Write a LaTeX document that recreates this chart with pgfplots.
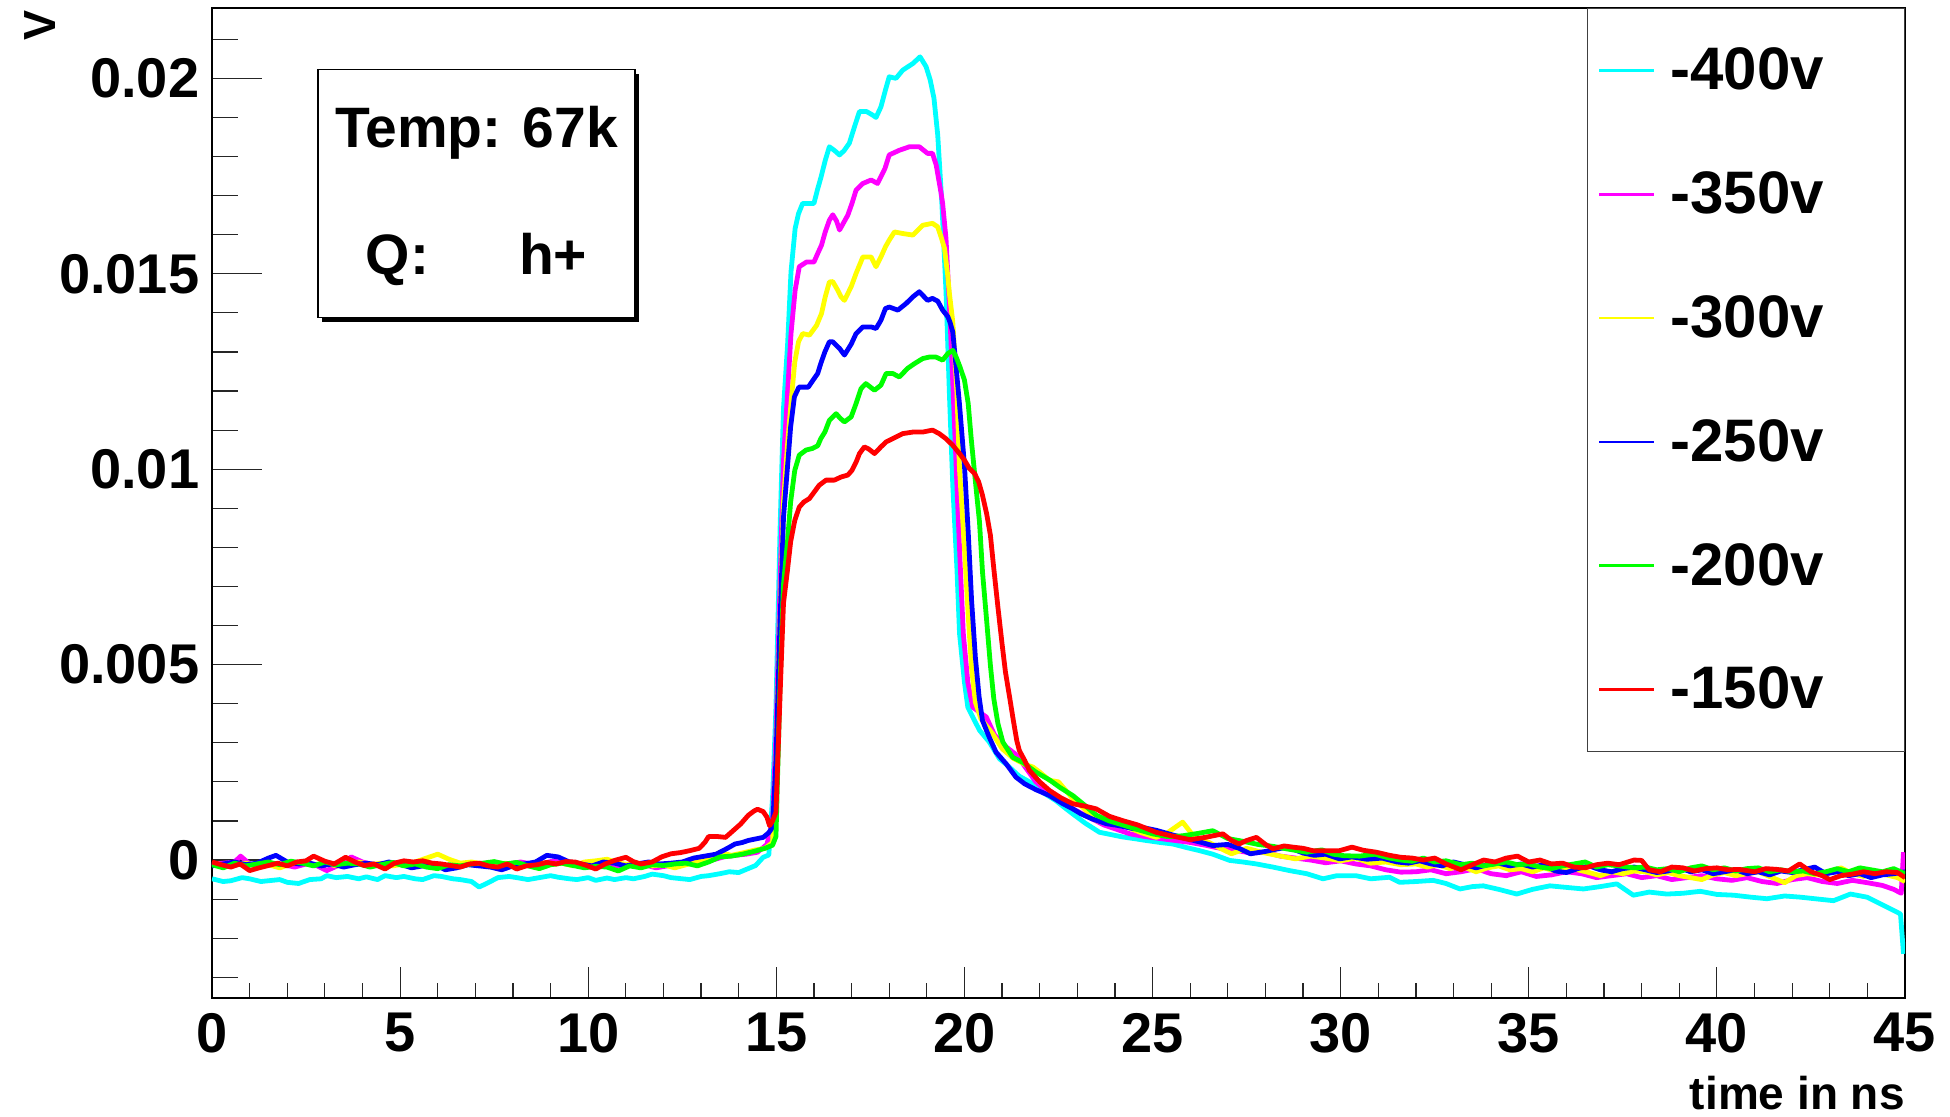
\documentclass[border=0pt]{standalone}
\usepackage{fontspec}
\setmainfont{Liberation Sans}
\usepackage{pgfplots}
\pgfplotsset{compat=1.18}
\definecolor{cCyan}{RGB}{0,255,255}
\definecolor{cMag}{RGB}{255,0,255}
\definecolor{cYel}{RGB}{255,255,0}
\definecolor{cBlue}{RGB}{0,0,255}
\definecolor{cGreen}{RGB}{0,255,0}
\definecolor{cRed}{RGB}{255,0,0}
\begin{document}
\begin{tikzpicture}
\begin{axis}[
  at={(0pt,0pt)}, anchor=south west,
  scale only axis, width=846.5pt, height=495pt,
  xmin=0, xmax=45, ymin=-0.00353, ymax=0.0218,
  axis line style={line width=0.8pt, black},
  xtick={0,5,...,45},
  minor xtick={1,2,3,4,6,7,8,9,11,12,13,14,16,17,18,19,21,22,23,24,26,27,28,29,31,32,33,34,36,37,38,39,41,42,43,44},
  ytick={0,0.005,0.01,0.015,0.02},
  minor ytick={-0.003,-0.002,-0.001,0.001,0.002,0.003,0.004,0.006,0.007,0.008,0.009,0.011,0.012,0.013,0.014,0.016,0.017,0.018,0.019,0.021},
  xtick pos=bottom, ytick pos=left,
  tick align=inside,
  tick style={line width=0.6pt, black!85},
  major tick length=25pt, minor tick length=12.75pt,
  every major x tick/.append style={/pgfplots/major tick length=15.5pt},
  every minor x tick/.append style={/pgfplots/minor tick length=7.5pt},
  scaled y ticks=false,
  yticklabel style={/pgf/number format/fixed, /pgf/number format/precision=3, inner sep=0pt, xshift=-6.2pt},
  xticklabel style={inner sep=0pt, yshift=-7.5pt},
  /pgf/number format/assume math mode=true,
  ticklabel style={font=\fontsize{28}{30}\selectfont\bfseries},
  xlabel={time in ns},
  xlabel style={at={(axis description cs:1,0)}, anchor=base east, yshift=-55.5pt, inner sep=0pt, font=\fontsize{23}{25}\selectfont\bfseries},
  ylabel={V},
  ylabel style={at={(axis description cs:-0.1013,0.998)}, anchor=east, rotate=0, inner sep=0pt, font=\fontsize{22.5}{24}\selectfont\bfseries},
  legend cell align=left,
  legend style={at={(axis description cs:1,1)}, anchor=north east, draw=black!75, line width=0.6pt,
    inner xsep=5pt, inner ysep=0pt, row sep=0pt, column sep=7.5pt,
    font=\fontsize{30}{30}\selectfont\bfseries,
    nodes={inner sep=0pt, minimum height=61.9pt, text width=112pt, align=left}},
  legend image code/.code={\draw[#1, line width=1.3pt] (0pt,0pt) -- (27.5pt,0pt);},
  every axis plot/.append style={line width=2.4pt, line join=round, no markers},
]
% -400v
\addplot[cCyan] coordinates {(0,-0.00048) (0.3,-0.00055) (0.5,-0.00053) (0.8,-0.00045) (1.0,-0.00048) (1.3,-0.00055) (1.5,-0.00053) (1.8,-0.00050) (2.0,-0.00057) (2.3,-0.00060) (2.6,-0.00050) (2.9,-0.00048) (3.05,-0.00040) (3.3,-0.00045) (3.6,-0.00042) (3.9,-0.00048) (4.1,-0.00043) (4.4,-0.00050) (4.6,-0.00040) (4.9,-0.00045) (5.1,-0.00042) (5.4,-0.00048) (5.6,-0.00050) (5.9,-0.00040) (6.1,-0.00042) (6.4,-0.00048) (6.6,-0.00050) (6.9,-0.00055) (7.1,-0.00069) (7.3,-0.00060) (7.6,-0.00045) (7.9,-0.00042) (8.1,-0.00045) (8.4,-0.00050) (8.7,-0.00045) (9.0,-0.00040) (9.2,-0.00044) (9.5,-0.00048) (9.7,-0.00050) (10.0,-0.00045) (10.2,-0.00052) (10.5,-0.00046) (10.7,-0.00050) (11.0,-0.00045) (11.2,-0.00048) (11.5,-0.00042) (11.7,-0.00036) (12.0,-0.00040) (12.2,-0.00045) (12.5,-0.00048) (12.7,-0.00050) (13.0,-0.00042) (13.2,-0.00040) (13.5,-0.00035) (13.75,-0.00030) (14.0,-0.00032) (14.25,-0.00022) (14.45,-0.00014) (14.65,0.00007) (14.8,0.00013) (14.9,0.00160) (14.99,0.00390) (15.1,0.00850) (15.19,0.01155) (15.3,0.01320) (15.39,0.01505) (15.5,0.01616) (15.59,0.01654) (15.7,0.01680) (16.0,0.01680) (16.09,0.01714) (16.19,0.01748) (16.3,0.01790) (16.41,0.01825) (16.55,0.01815) (16.68,0.01804) (16.8,0.01815) (16.94,0.01834) (17.09,0.01880) (17.21,0.01915) (17.4,0.01915) (17.56,0.01906) (17.65,0.01900) (17.78,0.01927) (17.9,0.01970) (18.0,0.02004) (18.18,0.02000) (18.36,0.02021) (18.63,0.02038) (18.82,0.02055) (18.98,0.02030) (19.09,0.01996) (19.19,0.01949) (19.29,0.01855) (19.4,0.01680) (19.51,0.01454) (19.6,0.01194) (19.69,0.00959) (19.8,0.00746) (19.87,0.00579) (20.0,0.00455) (20.09,0.00391) (20.22,0.00366) (20.4,0.00332) (20.66,0.00302) (20.8,0.00280) (20.93,0.00259) (21.1,0.00246) (21.45,0.00215) (21.82,0.00195) (22.1,0.00172) (22.43,0.00152) (22.65,0.00135) (22.88,0.00118) (23.2,0.00095) (23.59,0.00071) (23.9,0.00065) (24.21,0.00059) (24.5,0.00055) (24.83,0.00050) (25.2,0.00045) (25.54,0.00041) (25.9,0.00032) (26.25,0.00024) (26.6,0.00015) (27.05,-0.00001) (27.4,-0.00005) (27.76,-0.00010) (28.2,-0.00018) (28.64,-0.00027) (29.1,-0.00035) (29.53,-0.00048) (29.9,-0.00040) (30.4,-0.00040) (30.8,-0.00048) (31.3,-0.00044) (31.57,-0.00057) (32.0,-0.00055) (32.46,-0.00052) (32.8,-0.00060) (33.17,-0.00074) (33.5,-0.00068) (33.79,-0.00066) (34.2,-0.00075) (34.68,-0.00087) (35.1,-0.00075) (35.56,-0.00066) (36.0,-0.00070) (36.45,-0.00074) (36.9,-0.00068) (37.34,-0.00061) (37.78,-0.00090) (38.2,-0.00082) (38.67,-0.00087) (39.1,-0.00085) (39.56,-0.00080) (40.0,-0.00088) (40.45,-0.00090) (40.9,-0.00095) (41.33,-0.00099) (41.8,-0.00092) (42.22,-0.00095) (42.7,-0.00100) (43.1,-0.00104) (43.55,-0.00087) (43.99,-0.00095) (44.43,-0.00116) (44.7,-0.00129) (44.88,-0.00138) (44.96,-0.00240)};
\addlegendentry{-400v}
% -350v
\addplot[cMag] coordinates {(0,-0.00012) (0.3,-0.00008) (0.6,-0.00005) (0.76,0.00010) (1.0,-0.00010) (1.3,-0.00015) (1.6,-0.00010) (1.9,-0.00012) (2.2,-0.00018) (2.5,-0.00010) (2.8,-0.00015) (3.05,-0.00027) (3.4,-0.00012) (3.7,0.00008) (4.0,-0.00005) (4.3,-0.00012) (4.6,-0.00015) (4.9,-0.00010) (5.2,-0.00015) (5.5,-0.00008) (5.8,-0.00012) (6.1,-0.00018) (6.4,-0.00015) (6.7,-0.00010) (7.0,-0.00012) (7.3,-0.00015) (7.6,-0.00012) (7.9,-0.00010) (8.2,-0.00005) (8.5,-0.00010) (8.8,-0.00008) (9.1,-0.00002) (9.4,-0.00010) (9.7,-0.00008) (10.0,-0.00015) (10.3,-0.00012) (10.6,-0.00018) (10.9,-0.00015) (11.2,-0.00010) (11.5,-0.00012) (11.8,-0.00020) (12.1,-0.00015) (12.4,-0.00010) (12.7,-0.00008) (13.0,-0.00005) (13.3,0.00000) (13.6,0.00008) (13.9,0.00012) (14.2,0.00015) (14.5,0.00020) (14.75,0.00040) (14.9,0.00100) (14.99,0.00319) (15.1,0.00711) (15.19,0.01021) (15.3,0.01198) (15.39,0.01347) (15.5,0.01458) (15.61,0.01518) (15.8,0.01530) (16.0,0.01530) (16.1,0.01552) (16.2,0.01573) (16.3,0.01607) (16.41,0.01637) (16.5,0.01651) (16.6,0.01635) (16.68,0.01612) (16.9,0.01650) (17.01,0.01680) (17.12,0.01714) (17.3,0.01731) (17.52,0.01740) (17.69,0.01731) (17.89,0.01770) (18.0,0.01804) (18.27,0.01816) (18.54,0.01825) (18.8,0.01825) (19.02,0.01808) (19.15,0.01808) (19.25,0.01778) (19.3,0.01750) (19.38,0.01706) (19.42,0.01680) (19.51,0.01590) (19.6,0.01420) (19.7,0.01198) (19.8,0.00959) (19.89,0.00750) (19.97,0.00579) (20.09,0.00455) (20.22,0.00391) (20.58,0.00366) (20.8,0.00320) (21.1,0.00290) (21.37,0.00270) (21.6,0.00240) (21.9,0.00200) (22.2,0.00175) (22.6,0.00148) (22.9,0.00130) (23.3,0.00110) (23.7,0.00090) (24.0,0.00080) (24.4,0.00067) (24.8,0.00060) (25.2,0.00055) (25.6,0.00050) (26.0,0.00045) (26.4,0.00038) (26.8,0.00030) (27.2,0.00025) (27.6,0.00018) (28.0,0.00020) (28.4,0.00010) (28.8,0.00005) (29.2,0.00000) (29.6,-0.00007) (30.0,-0.00002) (30.4,-0.00010) (30.8,-0.00015) (31.2,-0.00025) (31.6,-0.00031) (32.0,-0.00030) (32.4,-0.00025) (32.8,-0.00035) (33.2,-0.00030) (33.6,-0.00022) (34.0,-0.00035) (34.4,-0.00040) (34.8,-0.00030) (35.2,-0.00042) (35.6,-0.00038) (36.0,-0.00030) (36.4,-0.00035) (36.8,-0.00045) (37.2,-0.00040) (37.6,-0.00035) (38.0,-0.00045) (38.4,-0.00040) (38.8,-0.00050) (39.2,-0.00045) (39.6,-0.00040) (40.0,-0.00048) (40.4,-0.00052) (40.8,-0.00045) (41.2,-0.00055) (41.6,-0.00060) (42.0,-0.00050) (42.4,-0.00045) (42.8,-0.00055) (43.2,-0.00060) (43.6,-0.00052) (44.0,-0.00058) (44.4,-0.00065) (44.7,-0.00075) (44.9,-0.00085) (44.96,0.00020)};
\addlegendentry{-350v}
% -300v
\addplot[cYel] coordinates {(0,-0.00010) (0.3,-0.00018) (0.6,-0.00012) (0.9,-0.00008) (1.2,-0.00015) (1.5,-0.00012) (1.8,-0.00020) (2.1,-0.00010) (2.4,-0.00005) (2.7,-0.00012) (3.0,-0.00008) (3.3,-0.00015) (3.6,-0.00010) (3.9,-0.00005) (4.2,-0.00012) (4.5,-0.00008) (4.8,-0.00015) (5.1,-0.00010) (5.4,-0.00005) (5.7,0.00005) (6.0,0.00015) (6.3,0.00002) (6.6,-0.00008) (6.9,-0.00005) (7.2,-0.00010) (7.5,-0.00012) (7.8,-0.00008) (8.1,-0.00015) (8.4,-0.00010) (8.7,-0.00005) (9.0,-0.00012) (9.3,-0.00008) (9.6,-0.00015) (9.9,-0.00005) (10.2,-0.00002) (10.5,0.00002) (10.8,-0.00008) (11.1,-0.00012) (11.4,-0.00010) (11.7,-0.00015) (12.0,-0.00012) (12.3,-0.00020) (12.6,-0.00012) (12.9,-0.00005) (13.2,0.00005) (13.5,0.00020) (13.8,0.00012) (14.1,0.00018) (14.4,0.00025) (14.7,0.00030) (14.9,0.00045) (14.99,0.00255) (15.1,0.00622) (15.19,0.00916) (15.3,0.01065) (15.4,0.01180) (15.49,0.01274) (15.59,0.01326) (15.7,0.01347) (15.88,0.01343) (16.07,0.01368) (16.2,0.01398) (16.3,0.01441) (16.41,0.01479) (16.5,0.01480) (16.62,0.01460) (16.72,0.01441) (16.81,0.01432) (16.99,0.01467) (17.12,0.01501) (17.3,0.01543) (17.52,0.01543) (17.65,0.01518) (17.78,0.01543) (17.9,0.01569) (18.0,0.01586) (18.14,0.01607) (18.36,0.01603) (18.63,0.01599) (18.89,0.01624) (19.15,0.01629) (19.29,0.01620) (19.38,0.01594) (19.47,0.01565) (19.56,0.01492) (19.6,0.01450) (19.69,0.01377) (19.8,0.01198) (19.87,0.00997) (20.0,0.00800) (20.1,0.00626) (20.19,0.00490) (20.29,0.00404) (20.44,0.00361) (20.75,0.00323) (21.0,0.00285) (21.3,0.00260) (21.6,0.00245) (21.82,0.00238) (22.0,0.00225) (22.26,0.00204) (22.5,0.00200) (22.88,0.00157) (23.2,0.00130) (23.5,0.00101) (23.9,0.00092) (24.3,0.00085) (24.7,0.00070) (25.1,0.00058) (25.4,0.00070) (25.8,0.00097) (26.1,0.00060) (26.5,0.00045) (26.8,0.00030) (27.1,0.00016) (27.5,0.00030) (27.9,0.00020) (28.3,0.00012) (28.8,0.00003) (29.2,0.00010) (29.6,0.00005) (30.0,-0.00002) (30.4,0.00005) (30.8,-0.00008) (31.2,-0.00005) (31.6,-0.00012) (32.0,-0.00010) (32.3,-0.00018) (32.6,-0.00012) (32.9,-0.00022) (33.2,-0.00015) (33.6,-0.00030) (33.9,-0.00020) (34.2,-0.00015) (34.5,-0.00025) (34.8,-0.00022) (35.1,-0.00030) (35.4,-0.00020) (35.7,-0.00028) (36.0,-0.00022) (36.3,-0.00025) (36.6,-0.00032) (36.9,-0.00040) (37.2,-0.00030) (37.5,-0.00035) (37.8,-0.00028) (38.1,-0.00030) (38.4,-0.00038) (38.7,-0.00032) (39.0,-0.00040) (39.3,-0.00045) (39.6,-0.00050) (39.9,-0.00038) (40.2,-0.00032) (40.5,-0.00040) (40.8,-0.00035) (41.1,-0.00030) (41.4,-0.00042) (41.8,-0.00058) (42.1,-0.00040) (42.4,-0.00035) (42.7,-0.00038) (43.0,-0.00030) (43.3,-0.00020) (43.6,-0.00035) (43.9,-0.00042) (44.2,-0.00030) (44.5,-0.00038) (44.8,-0.00045) (45.0,-0.00055)};
\addlegendentry{-300v}
% -250v
\addplot[cBlue] coordinates {(0,-0.00015) (0.3,-0.00010) (0.6,-0.00005) (0.9,-0.00012) (1.2,-0.00008) (1.5,0.00005) (1.7,0.00012) (2.0,-0.00005) (2.3,-0.00010) (2.6,-0.00008) (2.9,-0.00015) (3.2,-0.00010) (3.5,-0.00018) (3.8,-0.00012) (4.1,-0.00008) (4.4,-0.00012) (4.7,-0.00005) (5.0,-0.00010) (5.3,-0.00020) (5.6,-0.00015) (5.9,-0.00010) (6.2,-0.00025) (6.5,-0.00020) (6.8,-0.00012) (7.1,-0.00015) (7.4,-0.00018) (7.7,-0.00025) (8.0,-0.00015) (8.3,-0.00010) (8.6,-0.00005) (8.9,0.00012) (9.2,0.00008) (9.5,-0.00005) (9.8,-0.00010) (10.1,-0.00015) (10.4,-0.00005) (10.7,-0.00008) (11.0,-0.00015) (11.3,-0.00010) (11.6,-0.00005) (11.9,-0.00010) (12.2,-0.00008) (12.5,-0.00005) (12.8,0.00005) (13.1,0.00010) (13.4,0.00015) (13.7,0.00030) (13.9,0.00041) (14.1,0.00045) (14.25,0.00050) (14.5,0.00055) (14.65,0.00058) (14.8,0.00070) (14.9,0.00084) (14.99,0.00255) (15.1,0.00613) (15.19,0.00876) (15.3,0.01010) (15.38,0.01108) (15.48,0.01185) (15.6,0.01210) (15.85,0.01210) (15.97,0.01227) (16.1,0.01245) (16.18,0.01270) (16.29,0.01300) (16.41,0.01326) (16.5,0.01326) (16.68,0.01309) (16.81,0.01292) (16.99,0.01320) (17.12,0.01347) (17.3,0.01364) (17.52,0.01364) (17.65,0.01360) (17.78,0.01381) (17.9,0.01411) (18.0,0.01415) (18.23,0.01407) (18.45,0.01424) (18.63,0.01441) (18.8,0.01454) (19.02,0.01432) (19.15,0.01437) (19.29,0.01430) (19.42,0.01407) (19.56,0.01390) (19.62,0.01375) (19.69,0.01351) (19.77,0.01270) (19.87,0.01164) (20.0,0.01010) (20.1,0.00839) (20.19,0.00664) (20.29,0.00519) (20.39,0.00417) (20.48,0.00357) (20.66,0.00314) (20.84,0.00276) (21.11,0.00246) (21.37,0.00212) (21.6,0.00195) (21.9,0.00180) (22.26,0.00165) (22.6,0.00145) (22.88,0.00131) (23.1,0.00118) (23.4,0.00105) (23.77,0.00093) (24.1,0.00088) (24.5,0.00080) (24.8,0.00082) (25.1,0.00076) (25.5,0.00065) (25.9,0.00055) (26.3,0.00045) (26.6,0.00037) (27.0,0.00040) (27.3,0.00030) (27.6,0.00016) (28.0,0.00022) (28.3,0.00028) (28.6,0.00033) (29.0,0.00018) (29.3,0.00012) (29.6,0.00015) (29.97,0.00003) (30.3,0.00008) (30.7,0.00002) (31.1,0.00005) (31.5,-0.00005) (31.8,-0.00008) (32.1,-0.00002) (32.4,-0.00010) (32.7,-0.00015) (33.0,-0.00005) (33.3,-0.00012) (33.6,-0.00020) (33.9,-0.00012) (34.2,-0.00008) (34.5,-0.00015) (34.8,-0.00010) (35.1,-0.00018) (35.4,-0.00012) (35.7,-0.00028) (36.0,-0.00032) (36.3,-0.00022) (36.6,-0.00015) (36.9,-0.00025) (37.2,-0.00030) (37.5,-0.00022) (37.8,-0.00018) (38.1,-0.00025) (38.4,-0.00032) (38.7,-0.00028) (39.0,-0.00020) (39.3,-0.00030) (39.6,-0.00025) (39.9,-0.00035) (40.2,-0.00030) (40.5,-0.00025) (40.8,-0.00035) (41.1,-0.00030) (41.4,-0.00038) (41.7,-0.00028) (42.0,-0.00032) (42.3,-0.00025) (42.6,-0.00018) (42.9,-0.00035) (43.2,-0.00030) (43.5,-0.00040) (43.8,-0.00035) (44.1,-0.00045) (44.4,-0.00038) (44.7,-0.00035) (45.0,-0.00030)};
\addlegendentry{-250v}
% -200v
\addplot[cGreen] coordinates {(0,-0.00012) (0.3,-0.00020) (0.6,-0.00008) (0.9,-0.00015) (1.2,-0.00010) (1.5,-0.00005) (1.8,-0.00012) (2.1,-0.00003) (2.4,-0.00008) (2.7,-0.00015) (3.0,-0.00005) (3.3,-0.00012) (3.6,-0.00008) (3.9,-0.00010) (4.2,-0.00018) (4.5,-0.00012) (4.8,-0.00006) (5.1,-0.00015) (5.4,-0.00010) (5.7,-0.00018) (6.0,-0.00022) (6.3,-0.00012) (6.6,-0.00015) (6.9,-0.00010) (7.2,-0.00008) (7.5,-0.00004) (7.8,-0.00010) (8.1,-0.00006) (8.4,-0.00015) (8.7,-0.00022) (9.0,-0.00012) (9.3,-0.00008) (9.6,-0.00014) (9.9,-0.00020) (10.2,-0.00016) (10.5,-0.00018) (10.8,-0.00028) (11.1,-0.00015) (11.4,-0.00020) (11.7,-0.00012) (12.0,-0.00014) (12.3,-0.00010) (12.6,-0.00008) (12.9,-0.00015) (13.2,-0.00005) (13.5,0.00008) (13.8,0.00010) (14.1,0.00015) (14.4,0.00022) (14.7,0.00030) (14.9,0.00038) (14.99,0.00060) (15.1,0.00455) (15.19,0.00705) (15.3,0.00818) (15.38,0.00916) (15.49,0.00997) (15.61,0.01036) (15.79,0.01049) (15.96,0.01053) (16.1,0.01060) (16.18,0.01078) (16.29,0.01095) (16.41,0.01125) (16.59,0.01142) (16.7,0.01130) (16.81,0.01121) (16.99,0.01134) (17.12,0.01168) (17.25,0.01206) (17.38,0.01219) (17.5,0.01210) (17.61,0.01202) (17.78,0.01215) (17.92,0.01245) (18.09,0.01245) (18.27,0.01236) (18.49,0.01258) (18.67,0.01270) (18.89,0.01283) (19.07,0.01287) (19.24,0.01287) (19.42,0.01279) (19.56,0.01296) (19.69,0.01304) (19.78,0.01287) (19.88,0.01262) (20.0,0.01228) (20.1,0.01168) (20.18,0.01078) (20.29,0.00970) (20.4,0.00865) (20.48,0.00737) (20.59,0.00613) (20.69,0.00498) (20.78,0.00413) (20.89,0.00349) (21.02,0.00302) (21.28,0.00263) (21.55,0.00250) (21.9,0.00225) (22.26,0.00205) (22.55,0.00185) (22.88,0.00165) (23.2,0.00140) (23.5,0.00115) (23.85,0.00100) (24.2,0.00090) (24.6,0.00078) (25.0,0.00067) (25.4,0.00060) (25.8,0.00062) (26.2,0.00068) (26.6,0.00075) (27.0,0.00055) (27.4,0.00048) (27.8,0.00040) (28.2,0.00035) (28.6,0.00028) (29.1,0.00020) (29.5,0.00026) (29.8,0.00015) (30.1,0.00011) (30.5,0.00010) (30.9,0.00015) (31.3,0.00005) (31.6,0.00000) (31.9,-0.00003) (32.2,0.00005) (32.5,-0.00005) (32.8,-0.00002) (33.2,-0.00012) (33.5,-0.00008) (33.8,-0.00015) (34.1,-0.00010) (34.4,-0.00005) (34.7,-0.00012) (35.0,-0.00010) (35.3,-0.00018) (35.6,-0.00022) (35.9,-0.00015) (36.2,-0.00010) (36.5,-0.00005) (36.8,-0.00018) (37.1,-0.00012) (37.4,-0.00015) (37.8,-0.00020) (38.1,-0.00018) (38.4,-0.00025) (38.7,-0.00022) (39.0,-0.00030) (39.3,-0.00020) (39.6,-0.00015) (39.9,-0.00025) (40.2,-0.00020) (40.5,-0.00028) (40.8,-0.00022) (41.1,-0.00020) (41.4,-0.00030) (41.7,-0.00025) (42.0,-0.00030) (42.3,-0.00028) (42.6,-0.00035) (42.9,-0.00030) (43.2,-0.00022) (43.5,-0.00030) (43.8,-0.00020) (44.1,-0.00025) (44.4,-0.00030) (44.7,-0.00022) (45.0,-0.00035)};
\addlegendentry{-200v}
% -150v
\addplot[cRed] coordinates {(0,-0.00005) (0.25,-0.00012) (0.5,-0.00018) (0.75,-0.00010) (1.0,-0.00027) (1.25,-0.00020) (1.5,-0.00014) (1.75,-0.00008) (2.0,-0.00015) (2.25,-0.00005) (2.5,-0.00002) (2.7,0.00010) (3.0,-0.00003) (3.25,-0.00010) (3.55,0.00007) (3.8,-0.00005) (4.05,-0.00014) (4.3,-0.00010) (4.6,-0.00023) (4.85,-0.00008) (5.1,-0.00002) (5.35,-0.00005) (5.6,-0.00002) (5.85,-0.00008) (6.1,-0.00010) (6.35,-0.00014) (6.6,-0.00018) (6.85,-0.00010) (7.1,-0.00008) (7.35,-0.00015) (7.6,-0.00018) (7.85,-0.00010) (8.1,-0.00023) (8.35,-0.00015) (8.65,-0.00012) (8.9,-0.00006) (9.15,-0.00010) (9.4,-0.00004) (9.65,-0.00005) (9.9,-0.00012) (10.2,-0.00023) (10.45,-0.00010) (10.7,-0.00001) (11.0,0.00007) (11.2,-0.00004) (11.4,-0.00010) (11.7,-0.00005) (11.95,0.00008) (12.2,0.00016) (12.45,0.00019) (12.7,0.00024) (12.95,0.00030) (13.1,0.00045) (13.2,0.00060) (13.45,0.00060) (13.65,0.00058) (13.85,0.00075) (14.05,0.00092) (14.25,0.00114) (14.4,0.00125) (14.5,0.00130) (14.65,0.00124) (14.75,0.00110) (14.82,0.00088) (14.9,0.00100) (14.99,0.00122) (15.1,0.00425) (15.19,0.00657) (15.3,0.00745) (15.38,0.00814) (15.49,0.00869) (15.61,0.00903) (15.73,0.00916) (15.88,0.00925) (16.01,0.00942) (16.14,0.00959) (16.32,0.00972) (16.54,0.00972) (16.72,0.00980) (16.9,0.00985) (17.01,0.00997) (17.12,0.01018) (17.21,0.01040) (17.34,0.01057) (17.45,0.01052) (17.61,0.01040) (17.78,0.01057) (17.92,0.01070) (18.09,0.01078) (18.36,0.01091) (18.63,0.01095) (18.89,0.01095) (19.15,0.01100) (19.33,0.01091) (19.51,0.01078) (19.69,0.01061) (19.87,0.01040) (20.0,0.01023) (20.13,0.01002) (20.27,0.00989) (20.38,0.00967) (20.48,0.00933) (20.59,0.00886) (20.69,0.00831) (20.78,0.00746) (20.89,0.00647) (21.0,0.00553) (21.09,0.00481) (21.2,0.00417) (21.3,0.00357) (21.39,0.00306) (21.46,0.00280) (21.6,0.00255) (21.73,0.00229) (22.0,0.00200) (22.26,0.00178) (22.55,0.00160) (22.88,0.00144) (23.2,0.00138) (23.5,0.00131) (23.85,0.00112) (24.2,0.00101) (24.6,0.00090) (25.09,0.00071) (25.4,0.00064) (25.7,0.00058) (26.0,0.00052) (26.4,0.00058) (26.87,0.00067) (27.1,0.00050) (27.3,0.00041) (27.5,0.00050) (27.76,0.00058) (28.0,0.00040) (28.2,0.00029) (28.5,0.00036) (28.73,0.00033) (29.0,0.00030) (29.26,0.00024) (29.6,0.00024) (29.97,0.00024) (30.3,0.00033) (30.6,0.00025) (30.95,0.00020) (31.3,0.00012) (31.6,0.00007) (31.9,0.00005) (32.2,0.00000) (32.5,0.00005) (32.8,-0.00010) (33.2,-0.00025) (33.5,-0.00012) (33.8,0.00000) (34.1,-0.00005) (34.4,0.00005) (34.7,0.00010) (35.0,-0.00005) (35.3,0.00000) (35.6,-0.00010) (35.9,-0.00008) (36.2,-0.00018) (36.5,-0.00020) (36.8,-0.00012) (37.1,-0.00008) (37.4,-0.00012) (37.8,0.00000) (38.0,-0.00001) (38.2,-0.00025) (38.5,-0.00030) (38.8,-0.00018) (39.1,-0.00020) (39.4,-0.00028) (39.7,-0.00022) (40.0,-0.00020) (40.3,-0.00025) (40.6,-0.00024) (41.0,-0.00030) (41.3,-0.00022) (41.6,-0.00024) (41.9,-0.00028) (42.2,-0.00010) (42.5,-0.00030) (42.8,-0.00040) (43.0,-0.00050) (43.3,-0.00040) (43.6,-0.00036) (43.9,-0.00030) (44.2,-0.00035) (44.5,-0.00030) (44.8,-0.00032) (45.0,-0.00045)};
\addlegendentry{-150v}
\end{axis}
% text box with shadow
\fill[black] (55.2pt,337.9pt) rectangle (213.6pt,462.1pt);
\draw[fill=white, line width=0.7pt] (52.95pt,340.15pt) rectangle (211.4pt,464.35pt);
\node[anchor=base, inner sep=0pt, font=\fontsize{28.5}{30}\selectfont\bfseries] at (132.25pt,425pt) {Temp: 67k};
\node[anchor=base, inner sep=0pt, font=\fontsize{28.5}{30}\selectfont\bfseries] at (132.25pt,362pt) {Q:\hspace{45pt}h+};
\pgfresetboundingbox
\path[use as bounding box] (-106pt,-59pt) rectangle (869pt,499pt);
\end{tikzpicture}
\end{document}
